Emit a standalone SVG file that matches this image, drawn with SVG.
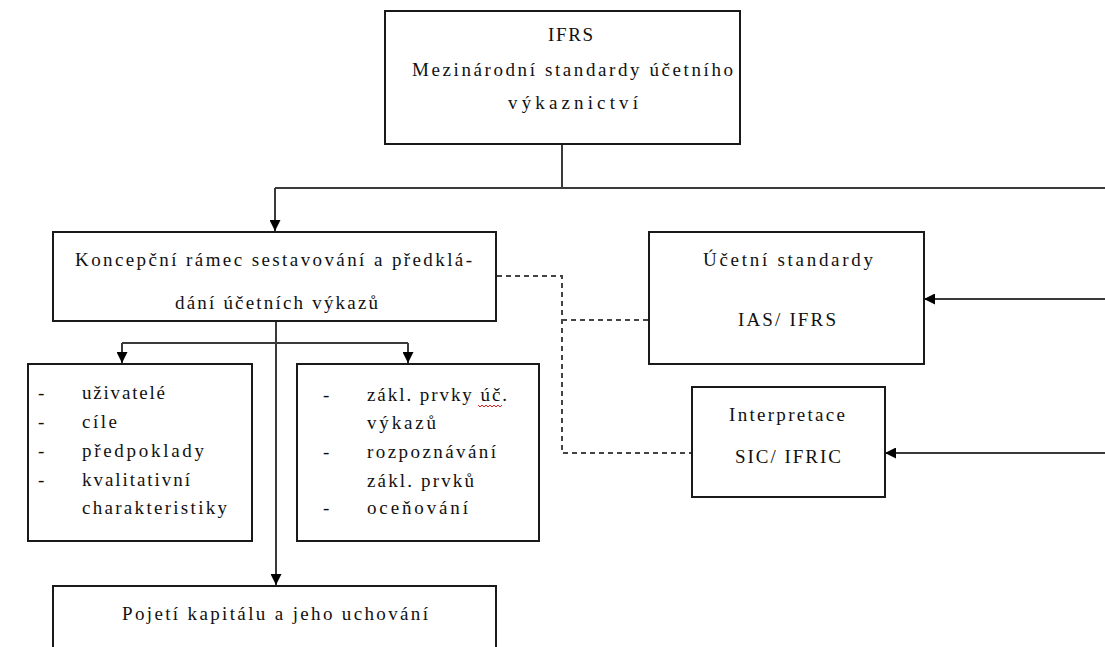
<svg xmlns="http://www.w3.org/2000/svg" width="1105" height="647" viewBox="0 0 1105 647">
  <style>
    .box { fill: #ffffff; stroke: #1a1a1a; stroke-width: 2; }
    .line { fill: none; stroke: #3a3a3a; stroke-width: 2; }
    .dash { fill: none; stroke: #444444; stroke-width: 2; stroke-dasharray: 5 4; }
    text { font-family: "Liberation Serif", "Times New Roman", serif; font-size: 19px; fill: #111111; }
    .spell { fill: none; stroke: #e02020; stroke-width: 1; }
  </style>
  <defs>
    <marker id="arrow" viewBox="0 0 10 10" refX="10" refY="5" markerWidth="5.5" markerHeight="5.5" orient="auto" markerUnits="strokeWidth">
      <path d="M0,0 L10,5 L0,10 Z" fill="#000000"/>
    </marker>
  </defs>

  <rect width="1105" height="647" fill="#ffffff"/>

  <!-- connectors -->
  <g id="connectors">
    <!-- IFRS trunk and main bus -->
    <path class="line" d="M562,144 V188"/>
    <path class="line" d="M275,188 H1105"/>
    <path class="line" d="M275,188 V231" marker-end="url(#arrow)"/>
    <!-- framework to its parts -->
    <path class="line" d="M276,321 V585" marker-end="url(#arrow)"/>
    <path class="line" d="M122,343 H408"/>
    <path class="line" d="M122,343 V363" marker-end="url(#arrow)"/>
    <path class="line" d="M408,343 V363" marker-end="url(#arrow)"/>
    <!-- standards and interpretations fed from the right -->
    <path class="line" d="M1105,299 H924" marker-end="url(#arrow)"/>
    <path class="line" d="M1105,453 H885" marker-end="url(#arrow)"/>
    <!-- dashed relations -->
    <path class="dash" d="M497,276 H562 V453 H691"/>
    <path class="dash" d="M562,320 H648"/>
  </g>

  <g id="ifrs">
    <rect class="box" x="385" y="11" width="355" height="133"/>
    <text x="548" y="41" textLength="45" lengthAdjust="spacing">IFRS</text>
    <text x="412" y="76" textLength="321" lengthAdjust="spacing">Mezinárodní standardy účetního</text>
    <text x="508" y="109" textLength="130" lengthAdjust="spacing">výkaznictví</text>
  </g>

  <g id="ramec">
    <rect class="box" x="53" y="232" width="443" height="89"/>
    <text x="75" y="266" textLength="397" lengthAdjust="spacing">Koncepční rámec sestavování a předklá-</text>
    <text x="175" y="309" textLength="203" lengthAdjust="spacing">dání účetních výkazů</text>
  </g>

  <g id="standardy">
    <rect class="box" x="649" y="232" width="275" height="132"/>
    <text x="703" y="266" textLength="170" lengthAdjust="spacing">Účetní standardy</text>
    <text x="738" y="326" textLength="98" lengthAdjust="spacing">IAS/ IFRS</text>
  </g>

  <g id="interpretace">
    <rect class="box" x="692" y="387" width="193" height="110"/>
    <text x="729" y="421" textLength="116" lengthAdjust="spacing">Interpretace</text>
    <text x="735" y="463" textLength="106" lengthAdjust="spacing">SIC/ IFRIC</text>
  </g>

  <g id="uzivatele">
    <rect class="box" x="28" y="364" width="224" height="177"/>
    <text x="38" y="399">-</text>
    <text x="82" y="399" textLength="83" lengthAdjust="spacing">uživatelé</text>
    <text x="38" y="428">-</text>
    <text x="82" y="428" textLength="35" lengthAdjust="spacing">cíle</text>
    <text x="38" y="457">-</text>
    <text x="82" y="457" textLength="122" lengthAdjust="spacing">předpoklady</text>
    <text x="38" y="486">-</text>
    <text x="82" y="486" textLength="108" lengthAdjust="spacing">kvalitativní</text>
    <text x="82" y="514" textLength="145" lengthAdjust="spacing">charakteristiky</text>
  </g>

  <g id="prvky">
    <rect class="box" x="297" y="364" width="242" height="177"/>
    <text x="323" y="401">-</text>
    <text x="367" y="401" textLength="140" lengthAdjust="spacing">zákl. prvky úč.</text>
    <path class="spell" d="M478,405 l2,2 l2,-2 l2,2 l2,-2 l2,2 l2,-2 l2,2 l2,-2 l2,2 l2,-2 l2,2 l2,-2"/>
    <text x="367" y="429" textLength="69" lengthAdjust="spacing">výkazů</text>
    <text x="323" y="458">-</text>
    <text x="367" y="458" textLength="129" lengthAdjust="spacing">rozpoznávání</text>
    <text x="367" y="487" textLength="107" lengthAdjust="spacing">zákl. prvků</text>
    <text x="323" y="514">-</text>
    <text x="367" y="514" textLength="101" lengthAdjust="spacing">oceňování</text>
  </g>

  <g id="kapital">
    <rect class="box" x="53" y="586" width="443" height="80"/>
    <text x="122" y="620" textLength="306" lengthAdjust="spacing">Pojetí kapitálu a jeho uchování</text>
  </g>
</svg>
